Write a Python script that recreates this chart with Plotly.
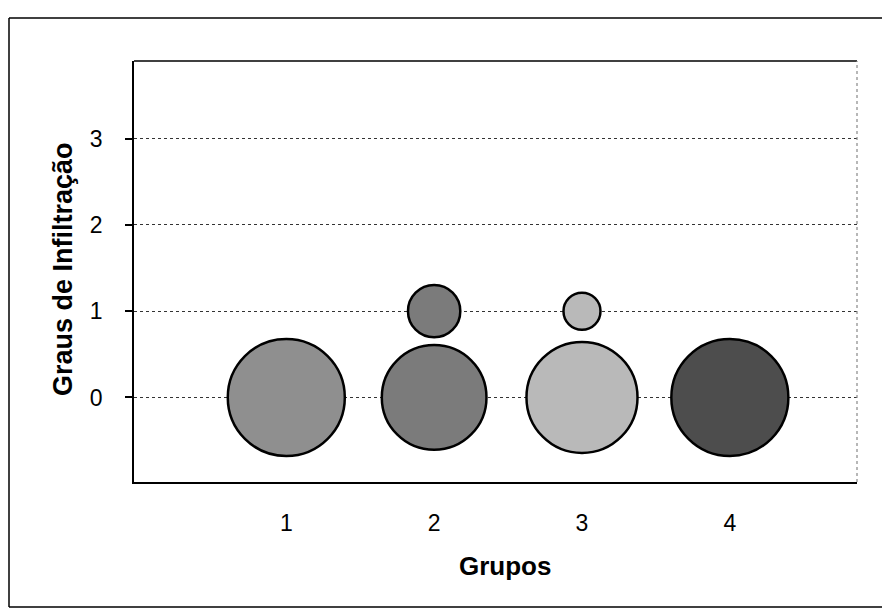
import plotly.graph_objects as go

# Data
grupos = [1, 2, 3, 4]
grau_0 = [0, 0, 0, 0]
grau_1 = [1, 1, 1, 1]
n_grau0 = [10, 8, 9, 10]
n_grau1 = [0, 2, 1, 0]
cores = ["#8f8f8f", "#7b7b7b", "#b9b9b9", "#4d4d4d"]
y_ticks = [-1, 0, 1, 2, 3]
y_ticktext = ["", "0", "1", "2", "3"]
x_ticks = [1, 2, 3, 4]

fig = go.Figure()
for i, g in enumerate(grupos):
    xs, ys, ss = [], [], []
    for yv, n in ((grau_0[i], n_grau0[i]), (grau_1[i], n_grau1[i])):
        if n > 0:
            xs.append(g)
            ys.append(yv)
            ss.append(n)
    fig.add_trace(go.Scatter(
        x=xs, y=ys, mode="markers", showlegend=False,
        marker=dict(size=ss, sizemode="area", sizeref=0.00146,
                    color=cores[i], opacity=1,
                    line=dict(color="black", width=2.5)),
        hoverinfo="x+y+text", text=[str(s) for s in ss],
    ))

# page is displayed with an 8px body offset; layout compensates
L, R, T, B = 126, 849, 53, 474
PW, PH = R - L, B - T

def px(x):
    return (x - L) / PW

def py(y):
    return (B - y) / PH

border = dict(color="black", width=1.5)
font_main = "Liberation Sans, Arial, sans-serif"
fig.update_layout(
    width=890, height=615,
    margin=dict(l=L, r=890 - R, t=T, b=615 - B),
    paper_bgcolor="white", plot_bgcolor="white",
    font=dict(family=font_main, color="black"),
    xaxis=dict(range=[-0.03, 4.86], tickvals=x_ticks, showgrid=False,
               zeroline=False, showline=True, linecolor="black", linewidth=1.5,
               mirror=False, ticks="", tickfont=dict(size=23),
               ticklabelstandoff=20),
    yaxis=dict(range=[-0.98, 3.9], tickvals=y_ticks, ticktext=y_ticktext,
               showgrid=True, gridcolor="#333333", griddash="dot", gridwidth=1,
               zeroline=False, showline=True, linecolor="black", linewidth=1.5,
               ticks="outside", ticklen=7, tickcolor="black", tickwidth=1.5,
               tickfont=dict(size=23), ticklabelstandoff=18),
    shapes=[
        # outer chart border (right side runs off the page, as in the scan)
        dict(type="line", xref="paper", yref="paper",
             x0=px(1), x1=px(882), y0=py(10), y1=py(10), line=border, layer="below"),
        dict(type="line", xref="paper", yref="paper",
             x0=px(1), x1=px(882), y0=py(599), y1=py(599), line=border, layer="below"),
        dict(type="line", xref="paper", yref="paper",
             x0=px(1), x1=px(1), y0=py(599), y1=py(10), line=border, layer="below"),
        # top border of plot area
        dict(type="line", xref="paper", yref="paper", x0=0, x1=1, y0=1, y1=1,
             line=dict(color="black", width=1.5)),
        # right border of plot area (dotted grey)
        dict(type="line", xref="paper", yref="paper", x0=1, x1=1, y0=0, y1=1,
             line=dict(color="#888888", width=1.2, dash="dot")),
    ],
    annotations=[
        dict(text="<b>Grupos</b>", xref="paper", yref="paper",
             x=px(497), y=py(558), showarrow=False,
             font=dict(size=26, family=font_main), xanchor="center", yanchor="middle"),
        dict(text="<b>Graus de Infiltração</b>", xref="paper", yref="paper",
             x=px(55), y=py(261), showarrow=False, textangle=-90,
             font=dict(size=27, family=font_main), xanchor="center", yanchor="middle"),
    ],
)

fig.write_html("out.html")
